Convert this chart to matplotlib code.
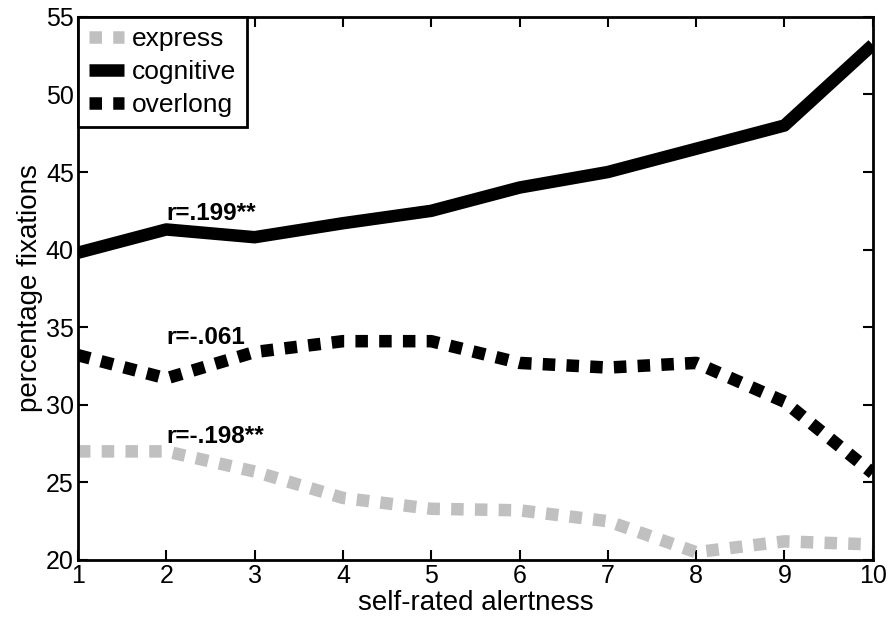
import matplotlib
matplotlib.use("Agg")
import matplotlib.pyplot as plt

x = [1, 2, 3, 4, 5, 6, 7, 8, 9, 10]
express = [27.0, 27.0, 25.7, 24.0, 23.3, 23.2, 22.5, 20.5, 21.2, 21.0]
cognitive = [39.8, 41.3, 40.8, 41.7, 42.5, 44.0, 45.0, 46.5, 48.0, 53.2]
overlong = [33.2, 31.7, 33.4, 34.1, 34.1, 32.7, 32.4, 32.7, 30.2, 25.6]
labels = ["express", "cognitive", "overlong"]
annotations = ["r=.199**", "r=-.061", "r=-.198**"]
ann_y = [41.9, 33.9, 27.55]

plt.rcParams['font.family'] = ['Liberation Sans', 'DejaVu Sans']
fig = plt.figure(figsize=(8.9, 6.2), dpi=100)
ax = fig.add_axes([0.0876, 0.0968, 0.893, 0.876])

lw = 9
ax.plot(x, express, color='#c0c0c0', lw=lw, dashes=(1.0, 0.9), dash_capstyle='butt', label=labels[0])
ax.plot(x, cognitive, color='black', lw=lw, solid_capstyle='butt', label=labels[1])
ax.plot(x, overlong, color='black', lw=lw, dashes=(1.0, 0.9), dash_capstyle='butt', label=labels[2])

for t, yy in zip(annotations, ann_y):
    ax.text(2.0, yy, t, fontsize=17.5, fontweight='bold', va='baseline', ha='left')

ax.set_xlim(1, 10)
ax.set_ylim(20, 55)
ax.set_xticks(x)
ax.set_yticks([20, 25, 30, 35, 40, 45, 50, 55])
ax.tick_params(direction='in', length=7, width=1.5, top=True, right=True, labelsize=18, pad=3)
for s in ax.spines.values():
    s.set_linewidth(2)
ax.set_xlabel("self-rated alertness", fontsize=20, labelpad=1)
ax.set_ylabel("percentage fixations", fontsize=20, labelpad=2)

leg = ax.legend(loc='upper left', borderaxespad=0, fontsize=19, handlelength=1.35,
                handletextpad=0.3, labelspacing=0.33, borderpad=0.4, fancybox=False,
                edgecolor='black', framealpha=1)
leg.get_frame().set_linewidth(2)

fig.savefig("out.png", dpi=100)
